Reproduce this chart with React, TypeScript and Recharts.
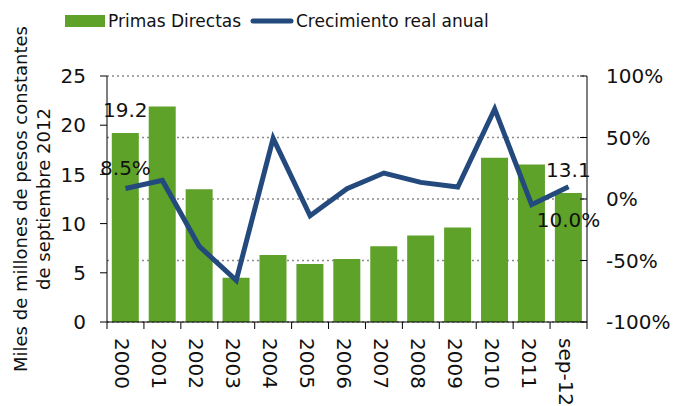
import { ComposedChart, Bar, Line, XAxis, YAxis, CartesianGrid, Legend, LabelList } from "recharts";

const years = ["2000", "2001", "2002", "2003", "2004", "2005", "2006", "2007", "2008", "2009", "2010", "2011", "sep-12"];
const primas = [19.2, 21.9, 13.5, 4.5, 6.8, 5.9, 6.4, 7.7, 8.8, 9.6, 16.7, 16.0, 13.1];
const crecimiento = [8.5, 15.1, -38.5, -66.2, 49.3, -13.6, 8.4, 21.1, 13.5, 9.8, 73.2, -4.6, 10.0];
const primasLabels = ["19.2", "", "", "", "", "", "", "", "", "", "", "", "13.1"];
const crecLabelsAbove = ["8.5%", "", "", "", "", "", "", "", "", "", "", "", ""];
const crecLabelsBelow = ["", "", "", "", "", "", "", "", "", "", "", "", "10.0%"];
const leftTicks = [0, 5, 10, 15, 20, 25];
const rightTicks = [-100, -50, 0, 50, 100];

const GREEN = "#5ea22a";
const BLUE = "#23497d";
const W = 678;
const H = 406;
const PLOT_LEFT = 107;
const PLOT_RIGHT = 587;
const band = (PLOT_RIGHT - PLOT_LEFT) / years.length;

const data = years.map((year, i) => ({
  year,
  primas: primas[i],
  crec: crecimiento[i],
  primasLabel: primasLabels[i],
  crecAbove: crecLabelsAbove[i],
  crecBelow: crecLabelsBelow[i],
}));

function YearTick(props: any) {
  const { x, y, payload } = props;
  const i = payload.index;
  const last = i === years.length - 1;
  return (
    <g>
      <line x1={x - band / 2} x2={x - band / 2} y1={y} y2={y + 7} stroke="#000" />
      {last && <line x1={x + band / 2} x2={x + band / 2} y1={y} y2={y + 7} stroke="#000" />}
      <text
        transform={`translate(${x},${y + 16}) rotate(90)`}
        dy={10}
        textAnchor="start"
        fontSize={20}
        fill="#111"
      >
        {payload.value}
      </text>
    </g>
  );
}

function LegendBox() {
  return (
    <svg width={W} height={40} style={{ display: "block" }}>
      <rect x={65} y={15} width={40} height={12} fill={GREEN} />
      <text x={108} y={27} fontSize={17} fill="#111">Primas Directas</text>
      <line x1={253} x2={291} y1={21} y2={21} stroke={BLUE} strokeWidth={5} strokeLinecap="round" />
      <text x={296} y={27} fontSize={17} fill="#111">Crecimiento real anual</text>
    </svg>
  );
}

function AxisTitle(props: any) {
  const vb = props.viewBox || {};
  const cy = (vb.y ?? 76) + (vb.height ?? 246) / 2;
  return (
    <g fontSize={18} fill="#111">
      <text transform={`translate(27,${cy}) rotate(-90)`} textAnchor="middle">
        Miles de millones de pesos constantes
      </text>
      <text transform={`translate(50,${cy}) rotate(-90)`} textAnchor="middle">
        de septiembre 2012
      </text>
    </g>
  );
}

export default function App() {
  return (
    <div style={{ position: "absolute", left: 0, top: 0, width: W, height: H, fontFamily: "DejaVu Sans", background: "#fff" }}>
      <ComposedChart
        width={W}
        height={H}
        data={data}
        margin={{ top: 76, right: 0, bottom: 0, left: 0 }}
        barCategoryGap="13%"
      >
        <CartesianGrid yAxisId="right" vertical={false} stroke="#8a8a8a" strokeDasharray="2 3" strokeWidth={1.5} />
        <XAxis
          dataKey="year"
          height={84}
          interval={0}
          tickSize={0}
          tickMargin={0}
          tickLine={false}
          axisLine={{ stroke: "#000" }}
          tick={<YearTick />}
        />
        <YAxis
          yAxisId="left"
          orientation="left"
          width={107}
          domain={[0, 25]}
          ticks={leftTicks}
          tickSize={7}
          tickMargin={14}
          axisLine={{ stroke: "#000" }}
          tickLine={{ stroke: "#000" }}
          tick={{ fontSize: 20, fill: "#111" }}
          label={<AxisTitle />}
        />
        <YAxis
          yAxisId="right"
          orientation="right"
          width={91}
          domain={[-100, 100]}
          ticks={rightTicks}
          tickSize={-7}
          tickMargin={26}
          tickFormatter={(v: number) => `${v}%`}
          axisLine={{ stroke: "#000" }}
          tickLine={{ stroke: "#000" }}
          tick={{ fontSize: 20, fill: "#111", textAnchor: "start" }}
        />
        <Legend
          verticalAlign="middle"
          align="center"
          layout="horizontal"
          wrapperStyle={{ top: 0, left: 0, width: W }}
          content={<LegendBox />}
        />
        <Bar yAxisId="left" dataKey="primas" fill={GREEN} isAnimationActive={false}>
          <LabelList dataKey="primasLabel" position="top" offset={16} fontSize={20} fill="#111" />
        </Bar>
        <Line
          yAxisId="right"
          dataKey="crec"
          stroke={BLUE}
          strokeWidth={5}
          dot={false}
          activeDot={false}
          isAnimationActive={false}
        >
          <LabelList dataKey="crecAbove" position="top" offset={14} fontSize={20} fill="#111" />
          <LabelList dataKey="crecBelow" position="bottom" offset={26} fontSize={20} fill="#111" />
        </Line>
      </ComposedChart>
    </div>
  );
}
